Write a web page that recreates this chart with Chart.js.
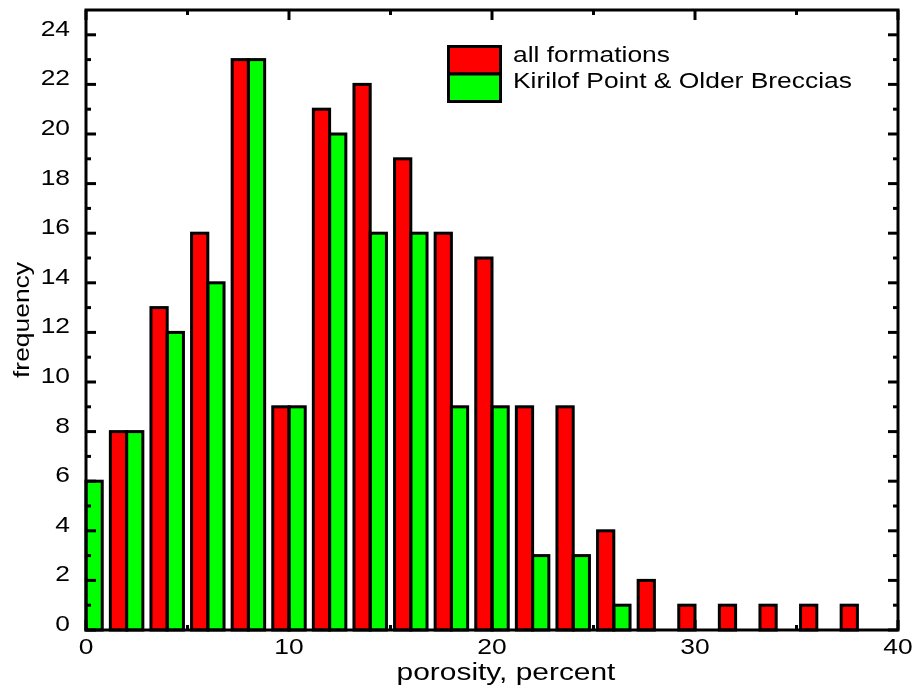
<!DOCTYPE html>
<html>
<head>
<meta charset="utf-8">
<script src="https://cdn.jsdelivr.net/npm/chart.js@4.4.0/dist/chart.umd.min.js"></script>
<style>
  html, body { margin: 0; padding: 0; background: #fff; }
  #wrap { width: 916px; height: 689px; }
</style>
</head>
<body>
<div id="wrap"><canvas id="c" width="916" height="689"></canvas></div>
<script>
// Porosity classes (percent), 2 % wide bins
const porosityBins = [0, 2, 4, 6, 8, 10, 12, 14, 16, 18, 20, 22, 24, 26, 28, 30, 32, 34, 36, 38];
// Counts per bin
const allFormations = [null, 8, 13, 16, 23, 9, 21, 22, 19, 16, 15, 9, 9, 4, 2, 1, 1, 1, 1, 1];
const kirilofOlder  = [6, 8, 12, 14, 23, 9, 20, 16, 16, 9, 9, 3, 3, 1, null, null, null, null, null, null];
const seriesNames = ['all formations', 'Kirilof Point & Older Breccias'];
// Axis ticks
const xMajorTicks = [0, 10, 20, 30, 40];
const xMinorTicks = [5, 15, 25, 35];
const yMajorTicks = [0, 2, 4, 6, 8, 10, 12, 14, 16, 18, 20, 22, 24];
const yMinorTicks = [1, 3, 5, 7, 9, 11, 13, 15, 17, 19, 21, 23];

const FONT = '"Liberation Sans", Arial, Helvetica, sans-serif';
const LINE = 3;

// Text drawn with a wide set, stretched along its baseline
function wideText(ctx, str, x, y, o) {
  const opt = Object.assign({ size: 22, align: 'left', baseline: 'alphabetic', rot: 0, sx: 1.2 }, o || {});
  ctx.save();
  ctx.translate(x, y);
  ctx.rotate(opt.rot);
  ctx.scale(opt.sx, 1);
  ctx.font = opt.size + 'px ' + FONT;
  ctx.textAlign = opt.align;
  ctx.textBaseline = opt.baseline;
  ctx.fillStyle = '#000';
  ctx.fillText(str, 0, 0);
  ctx.restore();
}

const framePlugin = {
  id: 'frame',
  afterDatasetsDraw(chart) {
    const ctx = chart.ctx;
    ctx.save();
    ctx.strokeStyle = '#000';
    ctx.lineWidth = LINE;
    ctx.lineJoin = 'miter';
    // outline every bar, stroke centred on its edges
    chart.data.datasets.forEach((ds, i) => {
      const meta = chart.getDatasetMeta(i);
      meta.data.forEach((bar, j) => {
        if (ds.data[j].y == null) return;
        const p = bar.getProps(['x', 'y', 'base', 'width'], true);
        ctx.strokeRect(p.x - p.width / 2, p.y, p.width, p.base - p.y);
      });
    });
    ctx.restore();
  },
  afterDraw(chart) {
    const ctx = chart.ctx;
    const a = chart.chartArea;
    const xs = chart.scales.x, ys = chart.scales.y;
    ctx.save();
    ctx.strokeStyle = '#000';
    ctx.lineWidth = LINE;
    ctx.lineCap = 'butt';

    // inward ticks on all four sides
    const tick = (x1, y1, x2, y2) => { ctx.beginPath(); ctx.moveTo(x1, y1); ctx.lineTo(x2, y2); ctx.stroke(); };
    const MAJ = 10, MIN = 5;
    yMajorTicks.forEach(v => { const y = ys.getPixelForValue(v); tick(a.left, y, a.left + MAJ, y); tick(a.right, y, a.right - MAJ, y); });
    yMinorTicks.forEach(v => { const y = ys.getPixelForValue(v); tick(a.left, y, a.left + MIN, y); tick(a.right, y, a.right - MIN, y); });
    xMajorTicks.forEach(v => { const x = xs.getPixelForValue(v); tick(x, a.bottom, x, a.bottom - MAJ); tick(x, a.top, x, a.top + MAJ); });
    xMinorTicks.forEach(v => { const x = xs.getPixelForValue(v); tick(x, a.bottom, x, a.bottom - MIN); tick(x, a.top, x, a.top + MIN); });

    // plot frame
    ctx.lineJoin = 'miter';
    ctx.strokeRect(a.left, a.top, a.right - a.left, a.bottom - a.top);

    // tick labels
    yMajorTicks.forEach(v => wideText(ctx, String(v), a.left - 16, ys.getPixelForValue(v) + 1, { align: 'right' }));
    xMajorTicks.forEach(v => wideText(ctx, String(v), xs.getPixelForValue(v), a.bottom + 24, { align: 'center' }));

    // axis titles
    wideText(ctx, 'porosity, percent', 506, 680, { align: 'center', size: 23, sx: 1.3 });
    wideText(ctx, 'frequency', 29, 320, { align: 'center', rot: -Math.PI / 2, size: 22 });

    // legend: stacked swatches sharing one outline
    const lx = 448.5, ly = 46.5, lw = 52, lh = 27.5;
    chart.data.datasets.forEach((ds, i) => {
      ctx.fillStyle = ds.backgroundColor;
      ctx.fillRect(lx, ly + i * lh, lw, lh);
      ctx.strokeRect(lx, ly + i * lh, lw, lh);
      wideText(ctx, ds.label, 513, 62 + i * 25.5, { size: 22 });
    });
    ctx.restore();
  }
};

new Chart(document.getElementById('c'), {
  type: 'bar',
  data: {
    datasets: [
      { label: seriesNames[0], backgroundColor: '#ff0000',
        data: porosityBins.map((b, i) => ({ x: b, y: allFormations[i] })) },
      { label: seriesNames[1], backgroundColor: '#00ff00',
        data: porosityBins.map((b, i) => ({ x: b, y: kirilofOlder[i] })) }
    ]
  },
  options: {
    responsive: false,
    animation: false,
    devicePixelRatio: 1,
    layout: { padding: { left: 86, right: 18, top: 10, bottom: 59 } },
    datasets: { bar: { categoryPercentage: 0.8, barPercentage: 1, borderWidth: 0, inflateAmount: 0 } },
    plugins: { legend: { display: false }, tooltip: { enabled: false } },
    scales: {
      x: { type: 'linear', min: 0, max: 40, offset: false, display: false, ticks: { stepSize: 10 } },
      y: { type: 'linear', min: 0, max: 25, display: false, ticks: { stepSize: 1 } }
    }
  },
  plugins: [framePlugin]
});
</script>
</body>
</html>
